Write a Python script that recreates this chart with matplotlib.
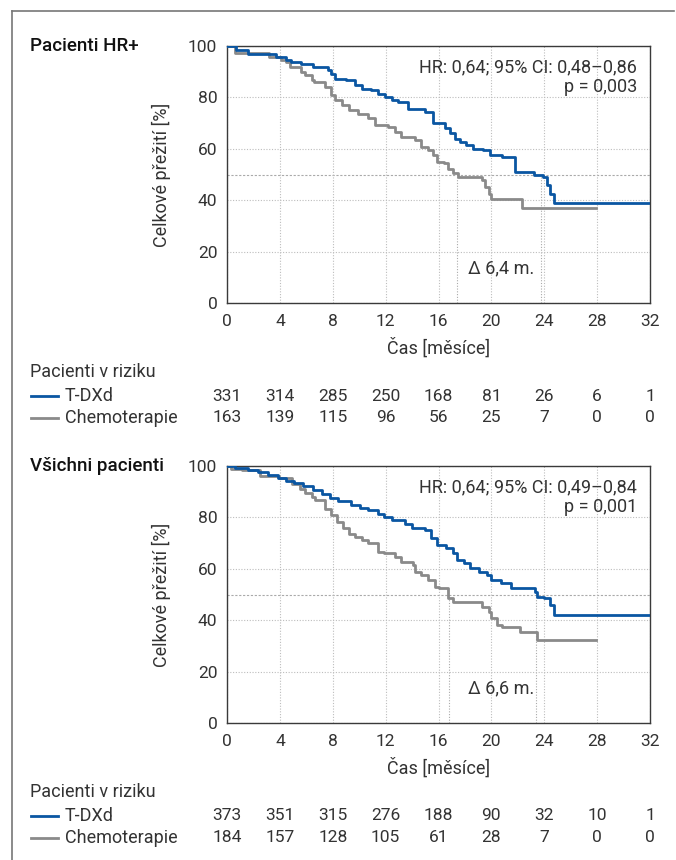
import matplotlib.pyplot as plt
from matplotlib.lines import Line2D
from matplotlib.transforms import blended_transform_factory

plt.rcParams['font.family'] = ['Roboto', 'DejaVu Sans']

# data: HR+ patients
hr_tdxd_t = [0, 0.71, 1.59, 3.74, 4.49, 4.87, 5.63, 6.52, 7.65, 7.9, 8.16, 9.04, 9.67, 10.18, 10.93,
             11.44, 11.94, 12.45, 12.95, 13.71, 14.97, 15.6, 16.5, 16.9, 17.25, 17.6, 18.1, 18.6,
             19.4, 19.9, 20.8, 21.8, 23.2, 23.9, 24.2, 24.45, 24.7, 32]
hr_tdxd_s = [100, 98.3, 97, 95.7, 94.4, 93.8, 93.1, 91.8, 90.5, 89.2, 87.3, 86.7, 84.7, 83.4, 82.8,
             81.5, 80.2, 78.9, 78.2, 75.6, 74.4, 70.0, 67.9, 66, 64, 62.7, 61.4, 60,
             59.5, 57.5, 56.9, 51, 49.7, 49.1, 45.9, 42.6, 39.1, 39.1]
hr_chemo_t = [0, 0.58, 3.2, 4.1, 4.5, 4.75, 5.6, 5.9, 6.4, 6.6, 7.4, 7.9, 8.2, 8.7, 9.2, 9.9, 10.7,
              11.2, 12.2, 12.7, 13.2, 14.2, 14.7, 15.2, 15.6, 15.9, 16.4, 16.75, 17.1, 17.5, 19.3,
              19.5, 19.8, 20.0, 22.3, 27.9]
hr_chemo_s = [100, 97.2, 95.7, 94.4, 93.8, 91.8, 89.9, 88.6, 86.7, 86, 84, 80.8, 78.9, 77, 75, 73.7,
              71.8, 69.2, 68.5, 66.6, 64.6, 63.3, 60.8, 59.5, 57.5, 55, 54.3, 52.3, 50.4, 49.1, 47.8,
              45.2, 42.6, 40.3, 36.8, 36.8]

# data: all patients
all_tdxd_t = [0, 0.58, 1.59, 2.35, 3.1, 3.86, 4.5, 5.1, 5.76, 6.5, 7.15, 7.78, 8.4, 9.4, 10.05, 10.7,
              11.4, 11.9, 12.45, 13.46, 13.96, 14.97, 15.4, 15.9, 16.6, 17.1, 17.4, 17.9, 18.4,
              19.1, 19.7, 20.0, 20.7, 21.5, 23.3, 23.45, 23.95, 24.45, 24.7, 32]
all_tdxd_s = [100, 99.2, 98.5, 97.5, 96.5, 95.5, 94.3, 93.3, 92.3, 90.5, 89, 87.5, 86.3, 85, 83.7, 82.7,
              81.5, 80.2, 78.9, 77.6, 76, 75, 72, 69.2, 67.9, 66, 63.4, 62.1, 60.2,
              58.9, 57.6, 55.6, 54.3, 52.4, 51.1, 49.2, 48.5, 45.9, 42, 42]
all_chemo_t = [0, 0.33, 1.1, 2.5, 3.9, 4.9, 5.5, 5.9, 6.4, 6.65, 7.4, 7.9, 8.3, 8.8, 9.2, 9.7, 10.2,
               10.7, 11.4, 11.9, 12.7, 13.2, 14.1, 14.2, 14.7, 15.2, 15.7, 16.0, 16.75, 17.1, 19.3,
               19.8, 20.0, 20.4, 20.8, 22.2, 23.45, 27.9]
all_chemo_s = [100, 99, 98.5, 96, 95.3, 93.1, 91.2, 89.3, 88, 86.7, 83.4, 80.9, 78.3, 75.7, 73.7, 72.4,
               71.2, 69.9, 66.6, 66, 64.7, 62.7, 61.4, 58.9, 57.6, 55.6, 53, 52.4, 48.5, 47.2, 45.3,
               43.3, 40.7, 38.2, 37.5, 35.6, 32.3, 32.3]

xticks = [0, 4, 8, 12, 16, 20, 24, 28, 32]
yticks = [0, 20, 40, 60, 80, 100]
hr_risk_tdxd = [331, 314, 285, 250, 168, 81, 26, 6, 1]
hr_risk_chemo = [163, 139, 115, 96, 56, 25, 7, 0, 0]
all_risk_tdxd = [373, 351, 315, 276, 188, 90, 32, 10, 1]
all_risk_chemo = [184, 157, 128, 105, 61, 28, 7, 0, 0]

hr_medians = [17.4, 23.75]
all_medians = [16.8, 23.4]

BLUE = '#0a56a2'
GRAY = '#8a8a8a'
TXT = '#333333'
W, H = 676, 860
FS_TXT = 13
FS_NUM = 12.5

fig = plt.figure(figsize=(W / 100, H / 100), dpi=100)


def fy(py):
    return 1 - py / H


def fx(px):
    return px / W


# frame around the figure
fig.add_artist(Line2D([fx(12), fx(674)], [fy(11), fy(11)], color='#777777', lw=1.2))
fig.add_artist(Line2D([fx(12), fx(12)], [fy(11), 0], color='#777777', lw=1.2))


def panel(top_px, title, tdxd, chemo, medians, hr_text, p_text, delta, risk_t, risk_c):
    bottom_px = top_px + 257
    ax = fig.add_axes([fx(227), fy(bottom_px), fx(650) - fx(227), (bottom_px - top_px) / H])
    ax.set_xlim(0, 32)
    ax.set_ylim(0, 100)
    ax.set_xticks(xticks)
    ax.set_yticks(yticks)
    ax.tick_params(axis='x', length=0, labelsize=FS_NUM, labelcolor=TXT, pad=8)
    ax.tick_params(axis='y', length=0, labelsize=FS_NUM, labelcolor=TXT, pad=7)
    for s in ax.spines.values():
        s.set_color('#3a3a3a')
        s.set_linewidth(1.0)
    ax.grid(True, color='#bdbdbd', linestyle=(0, (1, 1.5)), linewidth=0.8)
    ax.axhline(50, color='#aaaaaa', linestyle=(0, (2, 1.5)), linewidth=0.8, zorder=1)
    for m in medians:
        ax.plot([m, m], [0, 50], color='#aaaaaa', linestyle=(0, (1, 1.5)), linewidth=0.8, zorder=1)
    ax.plot(chemo[0], chemo[1], drawstyle='steps-post', color=GRAY, lw=2.0, zorder=3)
    ax.plot(tdxd[0], tdxd[1], drawstyle='steps-post', color=BLUE, lw=2.0, zorder=4)
    ax.set_xlabel('Čas [měsíce]', fontsize=FS_TXT, color=TXT, labelpad=6)
    ax.set_ylabel('Celkové přežití [%]', fontsize=FS_TXT, color=TXT, labelpad=12)
    ax.text(31.0, 91.7, hr_text, ha='right', va='center', fontsize=FS_TXT, color=TXT)
    ax.text(31.0, 84.0, p_text, ha='right', va='center', fontsize=FS_TXT, color=TXT)
    ax.text(20.7, 13.6, delta, ha='center', va='center', fontsize=FS_TXT, color=TXT)

    fig.text(fx(30), fy(top_px), title, ha='left', va='center', fontsize=13.5,
             color='#111111', fontweight='medium')
    tr = blended_transform_factory(ax.transData, fig.transFigure)
    y0 = bottom_px + 69
    fig.text(fx(30), fy(y0), 'Pacienti v riziku', ha='left', va='center', fontsize=FS_TXT,
             color=TXT)
    rows = [('T-DXd', BLUE, risk_t, y0 + 24), ('Chemoterapie', GRAY, risk_c, y0 + 46)]
    for name, col, vals, yy in rows:
        fig.add_artist(Line2D([fx(31), fx(58)], [fy(yy), fy(yy)], color=col, lw=2))
        fig.text(fx(65), fy(yy), name, ha='left', va='center', fontsize=FS_TXT, color=TXT)
        for xv, v in zip(xticks, vals):
            ax.text(xv, fy(yy), str(v), transform=tr, ha='center', va='center',
                    fontsize=FS_NUM, color=TXT, clip_on=False)
    return ax


panel(46, 'Pacienti HR+', (hr_tdxd_t, hr_tdxd_s), (hr_chemo_t, hr_chemo_s), hr_medians,
      'HR: 0,64; 95% CI: 0,48–0,86', 'p = 0,003', 'Δ 6,4 m.', hr_risk_tdxd, hr_risk_chemo)
panel(466, 'Všichni pacienti', (all_tdxd_t, all_tdxd_s), (all_chemo_t, all_chemo_s), all_medians,
      'HR: 0,64; 95% CI: 0,49–0,84', 'p = 0,001', 'Δ 6,6 m.', all_risk_tdxd, all_risk_chemo)

fig.savefig('out.png', dpi=100, facecolor='white')
